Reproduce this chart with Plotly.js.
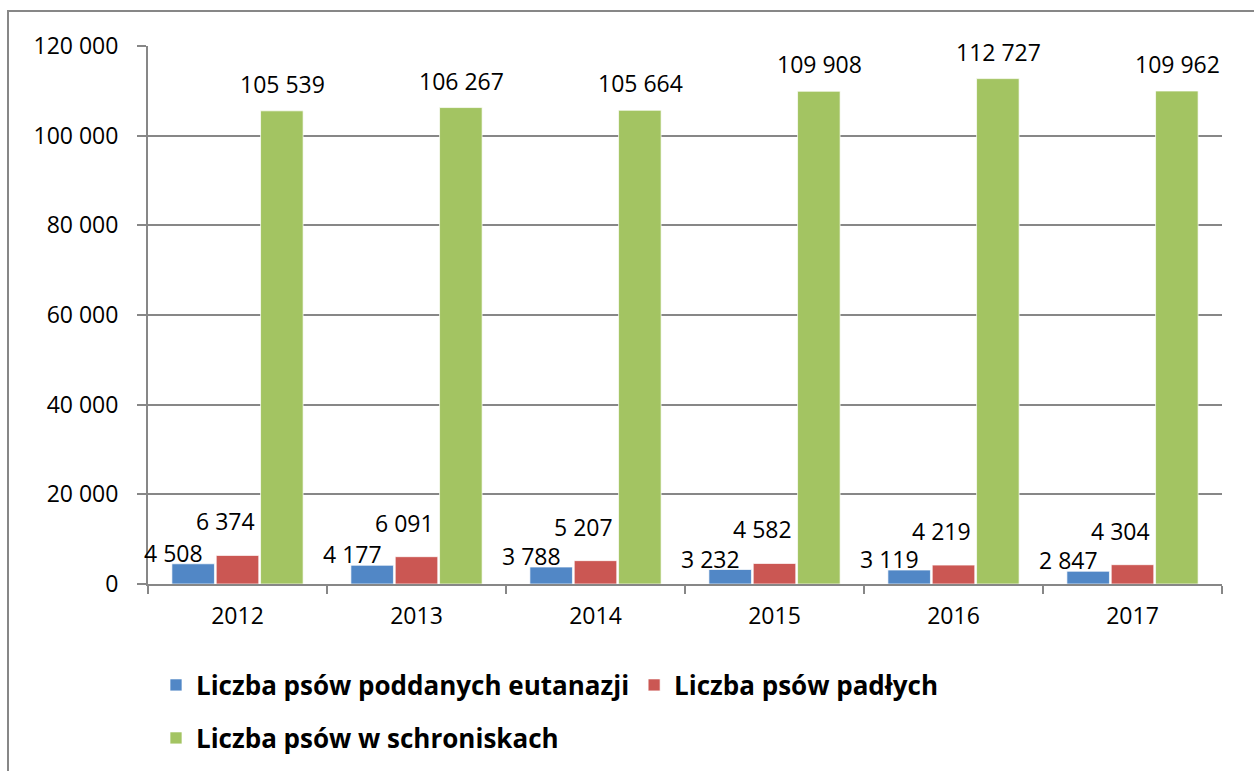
<!DOCTYPE html>
<html>
<head>
<meta charset="utf-8">
<script src="https://cdn.plot.ly/plotly-3.0.1.min.js"></script>
<style>
html,body{margin:0;padding:0;background:#fff;overflow:hidden;}
#chart{position:absolute;left:0;top:0;width:1254px;height:771px;}
#frame{position:absolute;left:7px;top:10px;width:1300px;height:800px;border-left:2px solid #878787;border-top:2px solid #878787;pointer-events:none;}
</style>
</head>
<body>
<div id="chart"></div>
<div id="frame"></div>
<script>
const years = ['2012', '2013', '2014', '2015', '2016', '2017'];
const euthanized = [4508, 4177, 3788, 3232, 3119, 2847];
const dead = [6374, 6091, 5207, 4582, 4219, 4304];
const inShelters = [105539, 106267, 105664, 109908, 112727, 109962];
const seriesNames = ['Liczba psów poddanych eutanazji', 'Liczba psów padłych', 'Liczba psów w schroniskach'];

const colors = ['#5187C6', '#CB5753', '#A3C462'];
const FONT = 'Open Sans, Liberation Sans, sans-serif';

function fmt(v){ return String(v).replace(/\B(?=(\d{3})+(?!\d))/g, ' '); }

const series = [euthanized, dead, inShelters];
const traces = series.map((vals, i) => ({
  type: 'bar',
  name: seriesNames[i],
  x: years,
  y: vals,
  marker: {color: colors[i], line: {color: 'rgba(255,255,255,0.7)', width: 1}},
  legend: i === 2 ? 'legend2' : 'legend',
  hoverinfo: 'none'
}));

// label nudges per series (style only)
const xs = [-64, -12, 45];
const ys = [11, 34, 27];
const annotations = [];
series.forEach((vals, i) => {
  vals.forEach((v, j) => {
    annotations.push({
      x: j, y: v, xref: 'x', yref: 'y',
      text: fmt(v), showarrow: false,
      xshift: xs[i], yshift: ys[i], yanchor: 'middle', xanchor: 'center',
      font: {family: FONT, size: 23, color: '#000'}
    });
  });
});

const axisColor = '#878787';
const legendFont = {family: FONT, size: 26, color: '#000', weight: 'bold'};
const layout = {
  width: 1254, height: 771,
  margin: {l: 148, r: 32, t: 46, b: 187},
  paper_bgcolor: '#fff', plot_bgcolor: '#fff',
  barmode: 'group', bargap: 0.257, bargroupgap: 0.04,
  separators: ', ',
  font: {family: FONT, size: 23, color: '#000'},
  xaxis: {
    type: 'category', range: [-0.5, years.length - 0.5], autorange: false,
    showline: true, linecolor: axisColor, linewidth: 2,
    ticks: 'outside', tickson: 'boundaries', ticklen: 8, tickwidth: 2, tickcolor: axisColor,
    showgrid: false, ticklabelstandoff: 10, tickangle: 0,
    tickfont: {family: FONT, size: 23, color: '#000'}
  },
  yaxis: {
    range: [0, 120000], autorange: false, dtick: 20000, tickformat: ',d',
    showline: true, linecolor: axisColor, linewidth: 2,
    ticks: 'outside', ticklen: 9, tickwidth: 2, tickcolor: axisColor,
    showgrid: true, gridcolor: axisColor, gridwidth: 2, zeroline: false,
    ticklabelstandoff: 14,
    tickfont: {family: FONT, size: 23, color: '#000'}
  },
  legend: {
    orientation: 'h', xref: 'container', yref: 'container',
    x: 156/1254, xanchor: 'left', y: 1 - 685/771, yanchor: 'middle',
    font: legendFont, traceorder: 'normal', itemwidth: 30
  },
  legend2: {
    orientation: 'h', xref: 'container', yref: 'container',
    x: 156/1254, xanchor: 'left', y: 1 - 738/771, yanchor: 'middle',
    font: legendFont
  },
  annotations: annotations,
  showlegend: true
};

Plotly.newPlot('chart', traces, layout, {displayModeBar: false, staticPlot: true});
</script>
</body>
</html>
